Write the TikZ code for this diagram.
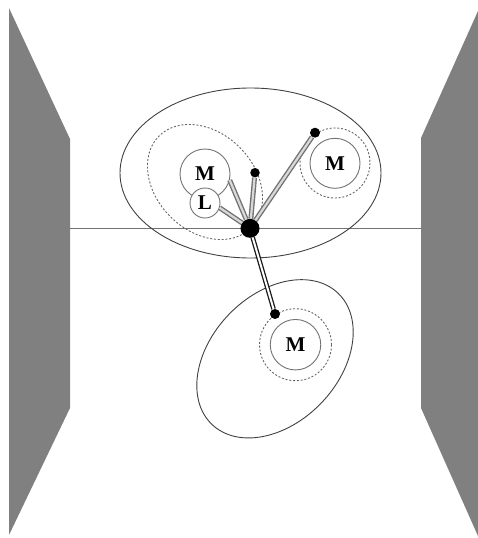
\documentclass[tikz,border=0pt]{standalone}
\usepackage{fontspec}
\setmainfont{Liberation Serif}
\begin{document}
\begin{tikzpicture}[x=1pt,y=-1pt,
  wall/.style={fill=black!50,draw=none},
  axis/.style={draw=black!55,line width=1.4pt},
  cell/.style={draw=black!75,line width=0.9pt},
  zone/.style={draw=black!60,line width=0.9pt,dash pattern=on 2pt off 1.8pt},
  mol/.style={circle,draw=black!55,line width=0.9pt,fill=white,inner sep=0pt,
    font=\bfseries\fontsize{21pt}{21pt}\selectfont},
  hubdot/.style={circle,fill=black,inner sep=0pt,minimum size=19pt},
  tipdot/.style={circle,fill=black,inner sep=0pt,minimum size=9.5pt},
  link/.style={draw=black!55,line width=1.4pt,double=white!85!black,double distance=2.2pt},
  darklink/.style={draw=black!90,line width=1.3pt,double=white,double distance=2pt}]
\useasboundingbox (0,0) rectangle (478,538);
% side walls
\fill[wall] (9,8) -- (70,139) -- (70,408) -- (9,535) -- cycle;
\fill[wall] (478,11) -- (421,138) -- (421,408) -- (478,536) -- cycle;
% horizontal line
\draw[axis] (70,228.3) -- (421,228.3);
% large outlines
\draw[cell] (250.5,173) ellipse [x radius=130.5, y radius=85];
\draw[cell] (275,358.8) ellipse [x radius=91, y radius=64, rotate=46];
% dashed outlines
\draw[zone] (205,182) ellipse [x radius=65, y radius=49, rotate=-45];
\draw[zone] (335,163) circle [radius=35];
\draw[zone] (295.5,344.7) circle [radius=36];
% nodes
\node[mol,minimum size=50pt] (m1) at (205,174) {M};
\node[mol,minimum size=30pt] (l1) at (205,203) {L};
\node[mol,minimum size=50pt] (m2) at (335,163.3) {M};
\node[mol,minimum size=50.5pt] (m3) at (295.5,344.7) {M};
\node[hubdot] (hub) at (250,228.3) {};
\node[tipdot] (d1) at (255,172.7) {};
\node[tipdot,minimum size=10pt] (d2) at (315,132.7) {};
\node[tipdot,minimum size=10pt] (d3) at (275,314) {};
% connectors
\draw[link] (m1.-14) -- (hub);
\draw[link] (l1.-18) -- (hub);
\draw[link] (hub) -- (d1);
\draw[link] (hub) -- (d2);
\draw[darklink] (hub) -- (d3);
\end{tikzpicture}
\end{document}
